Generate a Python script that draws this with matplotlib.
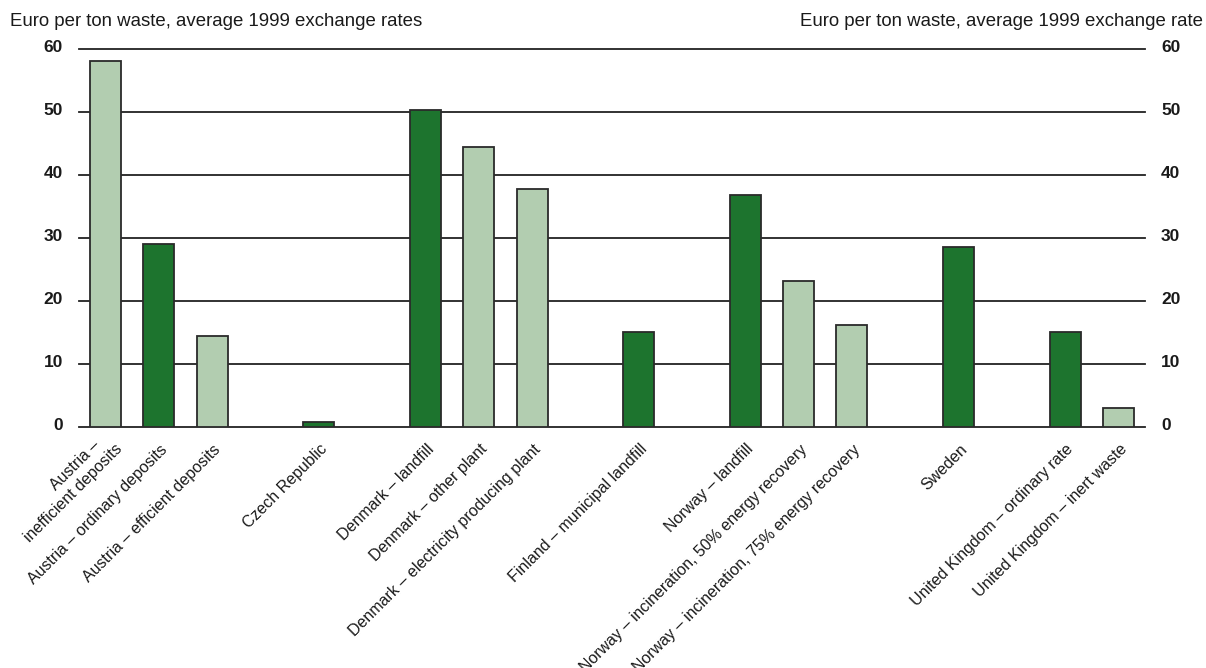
import matplotlib
matplotlib.use("Agg")
import matplotlib.pyplot as plt
from matplotlib import font_manager
from matplotlib.transforms import ScaledTranslation

# ---- data ----
groups = [
    ["Austria –   \ninefficient deposits", "Austria – ordinary deposits", "Austria – efficient deposits"],
    ["Czech Republic"],
    ["Denmark – landfill", "Denmark – other plant", "Denmark – electricity producing plant"],
    ["Finland – municipal landfill"],
    ["Norway – landfill", "Norway – incineration, 50% energy recovery", "Norway – incineration, 75% energy recovery"],
    ["Sweden"],
    ["United Kingdom – ordinary rate", "United Kingdom – inert waste"],
]
values = [58.1, 29.0, 14.4, 0.8, 50.3, 44.4, 37.7, 15.1, 36.9, 23.1, 16.2, 28.5, 15.1, 3.0]
shade = ["light", "dark", "light", "dark", "dark", "light", "light", "dark",
         "dark", "light", "light", "dark", "dark", "light"]
yticks = [0, 10, 20, 30, 40, 50, 60]
left_title = "Euro per ton waste, average 1999 exchange rates"
right_title = "Euro per ton waste, average 1999 exchange rate"

# ---- fonts ----
avail = {f.name for f in font_manager.fontManager.ttflist}
base_font = "Liberation Sans" if "Liberation Sans" in avail else "DejaVu Sans"
num_font = "Liberation Sans Narrow" if "Liberation Sans Narrow" in avail else base_font
plt.rcParams["font.family"] = [base_font, "DejaVu Sans"]

colors = {"dark": "#1d742e", "light": "#b2cdb0"}
text_color = "#1a1a1a"

# positions: one empty slot between groups
labels, positions = [], []
pos = 0
for g in groups:
    for lab in g:
        labels.append(lab)
        positions.append(pos)
        pos += 1
    pos += 1

fig = plt.figure(figsize=(12.06, 6.68), dpi=100)
ax = fig.add_axes([79 / 1206, 1 - 427 / 668, (1145 - 79) / 1206, (427 - 49) / 668])

ax.set_xlim(-0.5, 19.5)
ax.set_ylim(0, 60)
for y in yticks:
    ax.axhline(y, color="#222222", lw=1.3, zorder=1, clip_on=False)

ax.bar(positions, values, width=0.58, color=[colors[s] for s in shade],
       edgecolor="#2a2a2a", linewidth=1.3, zorder=3)

for s in ax.spines.values():
    s.set_visible(False)

ax.set_yticks(yticks)
ax.tick_params(axis="y", length=0, pad=11.5, labelsize=12.5, labelcolor=text_color,
               left=True, right=True, labelleft=True, labelright=True)
up = ScaledTranslation(0, 3 / 100, fig.dpi_scale_trans)
for tick in ax.yaxis.get_major_ticks():
    for lab in (tick.label1, tick.label2):
        lab.set_fontfamily(num_font)
        lab.set_fontweight("bold")
        lab.set_transform(lab.get_transform() + up)
ax.set_xticks([])

# x category labels, rotated 45
for x, lab in zip(positions, labels):
    dx, dy = 6, -20
    if "\n" in lab:
        dx, dy = 8, -13
    trans = ax.get_xaxis_transform() + ScaledTranslation(dx / 100, dy / 100, fig.dpi_scale_trans)
    ax.text(x, 0, lab, transform=trans, rotation=45, rotation_mode="anchor",
            ha="right", va="center", multialignment="right", fontsize=11.5,
            color=text_color)

fig.text(10 / 1206, 1 - 22 / 668, left_title, ha="left", va="center", fontsize=13.4, color=text_color)
fig.text(1203 / 1206, 1 - 22 / 668, right_title, ha="right", va="center", fontsize=13.4, color=text_color)

fig.savefig("out.png", dpi=100, facecolor="white")
